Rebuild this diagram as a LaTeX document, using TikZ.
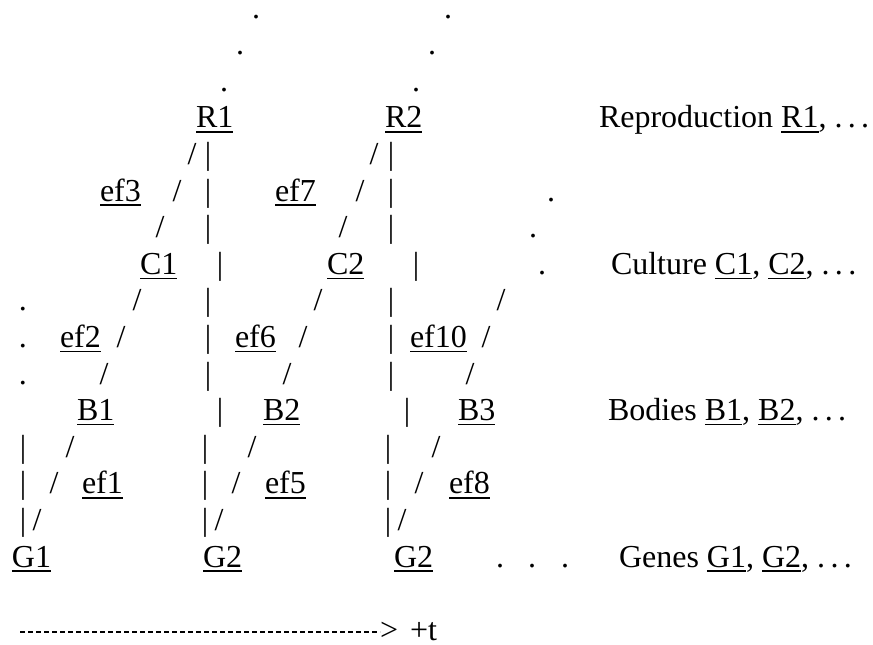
\documentclass[tikz,border=0pt]{standalone}
\usepackage{fontspec}
\setmainfont{Liberation Serif}
% underlined label: rule drawn under the box, a little below the baseline
\newcommand\ulw[1]{\setbox0\hbox{#1}\rlap{\rule[-4.7pt]{\wd0}{1.4pt}}\box0}
% spaced ellipsis
\newcommand\etc{.\kern0.1667em.\kern0.1667em.}
% baseline of text row #1 (row 0 = genes)
\newcommand\rowy[1]{567-36.6*#1}
\begin{document}
\begin{tikzpicture}[x=1pt,y=-1pt,
  every node/.style={inner sep=0pt, outer sep=0pt, font=\fontsize{32}{36.6}\selectfont},
  glyph/.style={anchor=base},
  dotmark/.style={anchor=base, text height=4pt, text depth=0pt},
  word/.style={anchor=base west},
  axislabel/.style={anchor=base west, text depth=0pt},
  timeline/.style={line width=1.7pt, dash pattern=on 4.7pt off 3.3pt}]
\useasboundingbox (0,0) rectangle (873,645);

% reproduction level
\node[word] (R1) at (196,{\rowy{12}}) {\ulw{R1}};
\node[word] (R2) at (385,{\rowy{12}}) {\ulw{R2}};
\node[word] (ef3) at (100,{\rowy{10}}) {\ulw{ef3}};
\node[word] (ef7) at (275,{\rowy{10}}) {\ulw{ef7}};

% culture level
\node[word] (C1) at (140,{\rowy{8}}) {\ulw{C1}};
\node[word] (C2) at (327,{\rowy{8}}) {\ulw{C2}};
\node[word] (ef2) at (60,{\rowy{6}}) {\ulw{ef2}};
\node[word] (ef6) at (235,{\rowy{6}}) {\ulw{ef6}};
\node[word] (ef10) at (410,{\rowy{6}}) {\ulw{ef10}};

% body level
\node[word] (B1) at (77,{\rowy{4}}) {\ulw{B1}};
\node[word] (B2) at (263,{\rowy{4}}) {\ulw{B2}};
\node[word] (B3) at (458,{\rowy{4}}) {\ulw{B3}};
\node[word] (ef1) at (82,{\rowy{2}}) {\ulw{ef1}};
\node[word] (ef5) at (265,{\rowy{2}}) {\ulw{ef5}};
\node[word] (ef8) at (449,{\rowy{2}}) {\ulw{ef8}};

% gene level
\node[word] (G1) at (12,{\rowy{0}}) {\ulw{G1}};
\node[word] (G2) at (203,{\rowy{0}}) {\ulw{G2}};
\node[word] (G3) at (394,{\rowy{0}}) {\ulw{G2}};

% level names
\node[word] (repro) at (599,{\rowy{12}}) {Reproduction \ulw{R1}, \etc};
\node[word] (cult) at (611,{\rowy{8}}) {Culture \ulw{C1}, \ulw{C2}, \etc};
\node[word] (bod) at (608,{\rowy{4}}) {Bodies \ulw{B1}, \ulw{B2}, \etc};
\node[word] (gen) at (619,{\rowy{0}}) {Genes \ulw{G1}, \ulw{G2}, \etc};

% slanted links
\foreach \x/\r [count=\i] in {192/11, 374/11, 177/10, 360/10, 160/9, 343/9,
    137/7, 318/7, 501/7, 121/6, 303/6, 486/6, 104/5, 287/5, 470/5,
    70/3, 252/3, 436/3, 54/2, 236/2, 419/2, 37/1, 219/1, 402/1}
  \node[glyph] (sl\i) at (\x,{\rowy{\r}}) {/};

% upright links
\foreach \x/\r [count=\i] in {208/11, 391/11, 208/10, 391/10, 208/9, 391/9,
    220/8, 416/8, 208/7, 391/7, 208/6, 391/6, 208/5, 391/5,
    220/4, 407/4, 23/3, 205/3, 388/3, 23/2, 205/2, 388/2, 23/1, 205/1, 388/1}
  \node[glyph] (vb\i) at (\x,{\rowy{\r}}) {|};

% continuation dots
\foreach \x/\r [count=\i] in {256/15, 448/15, 240/14, 432/14, 224/13, 416/13,
    551/10, 533/9, 542/8, 23/7, 23/6, 23/5, 500/0, 532/0, 565/0}
  \node[dotmark] (dt\i) at (\x,{\rowy{\r}}) {.};

% time axis
\node[axislabel] (gt) at (380,{\rowy{-2}}) {>};
\node[axislabel] (plust) at (410,{\rowy{-2}}) {+t};
\coordinate (tstart) at (20,632);
\draw[timeline] (tstart) -- (tstart -| gt.west);
\end{tikzpicture}
\end{document}
